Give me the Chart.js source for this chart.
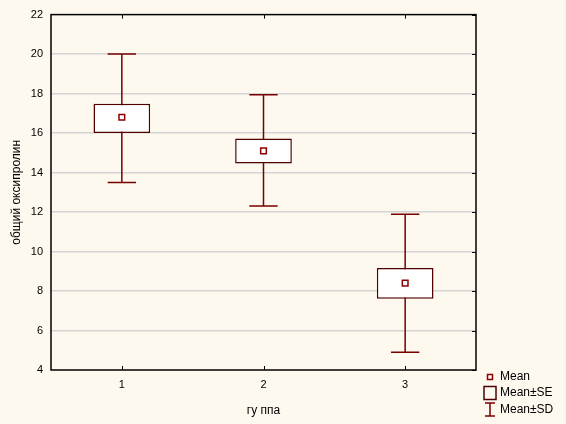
<!DOCTYPE html>
<html>
<head>
<meta charset="utf-8">
<script src="https://cdn.jsdelivr.net/npm/chart.js@4"></script>
<style>
  html, body { margin: 0; padding: 0; background: #fdf9ee; }
  #wrap { width: 566px; height: 424px; }
</style>
</head>
<body>
<div id="wrap"><canvas id="myChart" width="566" height="424"></canvas></div>
<script>
// группы и значения
const groups = ['1', '2', '3'];
const means = [16.8, 15.1, 8.4];
const seLow = [16.0, 14.46, 7.61];
const seHigh = [17.49, 15.72, 9.17];
const sdLow = [13.5, 12.3, 4.9];
const sdHigh = [20.0, 17.94, 11.89];
const yTicks = [4, 6, 8, 10, 12, 14, 16, 18, 20, 22];

const boxColor = '#500000';
const whiskerColor = '#7a0000';
const meanColor = '#8b0000';

// усы (Mean±SD) рисуем до боксов, чтобы белая заливка их перекрыла
const whiskerPlugin = {
    id: 'whiskers',
    beforeDatasetsDraw(chart) {
        const ctx = chart.ctx;
        const x = chart.scales.x, y = chart.scales.y;
        const capHalf = 0.1 * x.width / groups.length;
        ctx.save();
        ctx.strokeStyle = whiskerColor;
        ctx.lineWidth = 1.5;
        for (let i = 0; i < groups.length; i++) {
            const px = x.getPixelForValue(i);
            const top = y.getPixelForValue(sdHigh[i]);
            const bot = y.getPixelForValue(sdLow[i]);
            ctx.beginPath();
            ctx.moveTo(px, top); ctx.lineTo(px, bot);
            ctx.moveTo(px - capHalf, top); ctx.lineTo(px + capHalf, top);
            ctx.moveTo(px - capHalf, bot); ctx.lineTo(px + capHalf, bot);
            ctx.stroke();
        }
        ctx.restore();
    }
};

// рамка, внутренние засечки и легенда
const framePlugin = {
    id: 'frame',
    afterDraw(chart) {
        const ctx = chart.ctx;
        const a = chart.chartArea;
        const x = chart.scales.x, y = chart.scales.y;
        ctx.save();
        ctx.strokeStyle = '#000';
        ctx.lineWidth = 1.5;
        ctx.strokeRect(a.left, a.top, a.right - a.left, a.bottom - a.top);
        ctx.lineWidth = 1;
        ctx.beginPath();
        for (let i = 0; i < groups.length; i++) {
            const px = Math.round(x.getPixelForValue(i)) + 0.5;
            ctx.moveTo(px, a.top); ctx.lineTo(px, a.top + 4);
            ctx.moveTo(px, a.bottom); ctx.lineTo(px, a.bottom - 4);
        }
        yTicks.forEach(v => {
            const py = Math.round(y.getPixelForValue(v)) + 0.5;
            ctx.moveTo(a.right, py); ctx.lineTo(a.right - 4, py);
        });
        ctx.stroke();

        // легенда
        const lx = a.right + 14;
        const tx = a.right + 24;
        const rows = [a.bottom + 7, a.bottom + 23, a.bottom + 40];
        ctx.strokeStyle = meanColor;
        ctx.lineWidth = 1.5;
        ctx.strokeRect(lx - 2.5, rows[0] - 2.5, 5, 5);
        ctx.strokeStyle = boxColor;
        ctx.strokeRect(lx - 6, rows[1] - 6.5, 12, 13);
        ctx.strokeStyle = whiskerColor;
        ctx.beginPath();
        ctx.moveTo(lx - 5, rows[2] - 7); ctx.lineTo(lx + 5, rows[2] - 7);
        ctx.moveTo(lx, rows[2] - 7); ctx.lineTo(lx, rows[2] + 6);
        ctx.moveTo(lx - 5, rows[2] + 6); ctx.lineTo(lx + 5, rows[2] + 6);
        ctx.stroke();
        ctx.fillStyle = '#000';
        ctx.font = '12px "Liberation Sans", Arial, sans-serif';
        ctx.textBaseline = 'middle';
        ctx.fillText('Mean', tx, rows[0]);
        ctx.fillText('Mean±SE', tx, rows[1]);
        ctx.fillText('Mean±SD', tx, rows[2]);
        ctx.restore();
    }
};

const ctx = document.getElementById('myChart').getContext('2d');
new Chart(ctx, {
    type: 'bar',
    data: {
        labels: groups,
        datasets: [
            {
                label: 'Mean±SE',
                data: groups.map((g, i) => [seLow[i], seHigh[i]]),
                backgroundColor: '#ffffff',
                borderColor: boxColor,
                borderWidth: 1.5,
                borderSkipped: false,
                categoryPercentage: 1,
                barPercentage: 0.4,
                order: 2
            },
            {
                type: 'line',
                label: 'Mean',
                data: means,
                showLine: false,
                pointStyle: 'rect',
                pointRadius: 4,
                pointBorderWidth: 1.5,
                pointBackgroundColor: '#ffffff',
                pointBorderColor: meanColor,
                order: 1
            }
        ]
    },
    options: {
        responsive: false,
        animation: false,
        layout: { padding: { top: 11, right: 90, left: 0, bottom: 0 } },
        scales: {
            x: {
                grid: { display: false, drawTicks: false },
                border: { display: false },
                ticks: {
                    color: '#000',
                    padding: 8,
                    font: { family: '"Liberation Sans", Arial', size: 11 }
                },
                title: {
                    display: true,
                    text: 'гу ппа',
                    color: '#000',
                    padding: { top: 0, bottom: 6 },
                    font: { family: '"Liberation Sans", Arial', size: 12 }
                },
                afterFit: function (scale) { scale.height = 54; }
            },
            y: {
                min: 4,
                max: 22,
                afterBuildTicks: function (scale) {
                    scale.ticks = yTicks.map(v => ({ value: v }));
                },
                grid: {
                    color: ctx => (ctx.tick && (ctx.tick.value === 4 || ctx.tick.value === 22)) ? 'rgba(0,0,0,0)' : '#d4d4d4',
                    lineWidth: 1.5,
                    drawTicks: false
                },
                border: { display: false },
                ticks: {
                    color: '#000',
                    padding: 8,
                    font: { family: '"Liberation Sans", Arial', size: 11 }
                },
                title: {
                    display: true,
                    text: 'общий оксипролин',
                    color: '#000',
                    padding: { top: 9, bottom: 0 },
                    font: { family: '"Liberation Sans", Arial', size: 12 }
                },
                afterFit: function (scale) { scale.width = 51; }
            }
        },
        plugins: {
            legend: { display: false },
            tooltip: { enabled: false }
        }
    },
    plugins: [whiskerPlugin, framePlugin]
});
</script>
</body>
</html>
